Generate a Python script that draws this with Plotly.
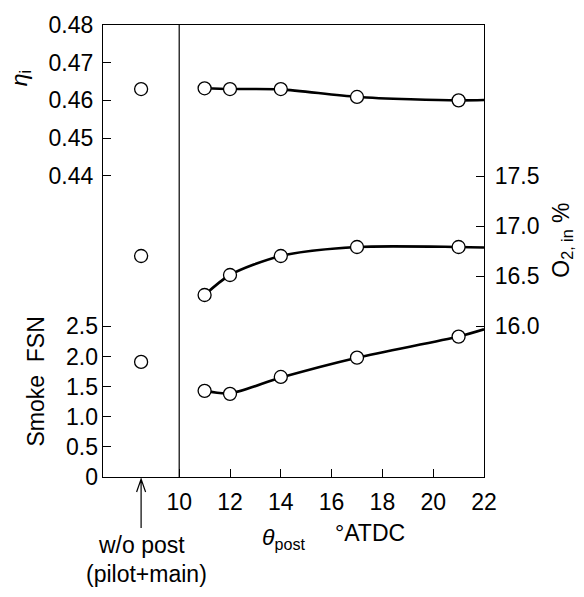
import plotly.graph_objects as go

# ---- data ----
theta_post = [11, 12, 14, 17, 21]
wo_post_x = [8.5]

eta_i = [0.4632, 0.4630, 0.4630, 0.4609, 0.4600]
eta_wo = [0.4630]
o2_in = [16.31, 16.51, 16.70, 16.79, 16.79]
o2_wo = [16.70]
smoke = [1.43, 1.38, 1.66, 1.98, 2.33]
smoke_wo = [1.91]

# fitted curves (drawn through the measured points, extended to the axis end)
curve_x = [11, 12, 14, 17, 21, 22]
eta_curve = [0.4632, 0.4630, 0.4629, 0.4609, 0.4600, 0.4601]
o2_curve = [16.31, 16.51, 16.70, 16.79, 16.79, 16.785]
smoke_curve = [1.43, 1.39, 1.65, 1.98, 2.33, 2.45]

x_ticks = [10, 12, 14, 16, 18, 20, 22]
eta_ticks = [0.44, 0.45, 0.46, 0.47, 0.48]
eta_ticktext = ["0.44", "0.45", "0.46", "0.47", "0.48"]
smoke_ticks = [0, 0.5, 1.0, 1.5, 2.0, 2.5]
smoke_ticktext = ["0", "0.5", "1.0", "1.5", "2.0", "2.5"]
o2_ticks = [16.0, 16.5, 17.0, 17.5]
o2_ticktext = ["16.0", "16.5", "17.0", "17.5"]

FONT = "Liberation Sans, Arial, sans-serif"
FS = 23

fig = go.Figure()

line_style = dict(color="black", width=2.6, shape="spline", smoothing=0.8)
marker_style = dict(symbol="circle", size=13, color="white", line=dict(color="black", width=1.3))

# eta
fig.add_trace(go.Scatter(x=curve_x, y=eta_curve, mode="lines", line=line_style, yaxis="y", showlegend=False, hoverinfo="skip"))
fig.add_trace(go.Scatter(x=theta_post, y=eta_i, mode="markers", marker=marker_style, yaxis="y", showlegend=False))
fig.add_trace(go.Scatter(x=wo_post_x, y=eta_wo, mode="markers", marker=marker_style, yaxis="y", showlegend=False))
# smoke
fig.add_trace(go.Scatter(x=curve_x, y=smoke_curve, mode="lines", line=line_style, yaxis="y2", showlegend=False, hoverinfo="skip"))
fig.add_trace(go.Scatter(x=theta_post, y=smoke, mode="markers", marker=marker_style, yaxis="y2", showlegend=False))
fig.add_trace(go.Scatter(x=wo_post_x, y=smoke_wo, mode="markers", marker=marker_style, yaxis="y2", showlegend=False))
# O2
fig.add_trace(go.Scatter(x=curve_x, y=o2_curve, mode="lines", line=line_style, yaxis="y3", showlegend=False, hoverinfo="skip"))
fig.add_trace(go.Scatter(x=theta_post, y=o2_in, mode="markers", marker=marker_style, yaxis="y3", showlegend=False))
fig.add_trace(go.Scatter(x=wo_post_x, y=o2_wo, mode="markers", marker=marker_style, yaxis="y3", showlegend=False))

axis_common = dict(showgrid=False, zeroline=False, ticks="inside", ticklen=8, tickwidth=1,
                   tickcolor="black", tickfont=dict(family=FONT, size=FS, color="black"))

fig.update_layout(
    width=584, height=597,
    margin=dict(l=103, r=100, t=18, b=120),
    plot_bgcolor="white", paper_bgcolor="white",
    font=dict(family=FONT, size=FS, color="black"),
    xaxis=dict(range=[7, 22], tickvals=x_ticks, showline=True, linecolor="black", linewidth=1.3,
               mirror=True, ticklabelstandoff=4, **axis_common),
    yaxis=dict(range=[0.36, 0.48], tickvals=eta_ticks, ticktext=eta_ticktext, showline=True,
               linecolor="black", linewidth=1.3, mirror=True, ticklabelstandoff=4, **axis_common),
    yaxis2=dict(range=[0, 7.5], tickvals=smoke_ticks, ticktext=smoke_ticktext, overlaying="y",
                side="left", anchor="x", showline=False, ticklabelstandoff=4, **axis_common),
    yaxis3=dict(range=[14.49, 19.01], tickvals=o2_ticks, ticktext=o2_ticktext, overlaying="y",
                side="right", anchor="x", showline=True, linecolor="black", linewidth=1.3,
                ticklabelstandoff=5, **axis_common),
)

# vertical separator at theta = 10
fig.add_shape(type="line", xref="x", yref="paper", x0=10, x1=10, y0=0, y1=1,
              line=dict(color="black", width=1.2))

# arrow pointing to the w/o post column
fig.add_shape(type="path", xref="x", yref="paper", xsizemode="pixel", ysizemode="pixel",
              xanchor=wo_post_x[0], yanchor=0,
              path="M0,-2 L0,-51 M-4.5,-15 L0,-2 L4.5,-15",
              line=dict(color="black", width=1.2))

ann = dict(showarrow=False, xref="paper", yref="paper", xanchor="center", yanchor="middle",
           font=dict(family=FONT, size=FS, color="black"))
fig.add_annotation(text="<i>η</i><sub>i</sub>", x=-0.218, y=0.882, textangle=-90, **ann)
fig.add_annotation(text="Smoke  FSN", x=-0.176, y=0.211, textangle=-90, **ann)
fig.add_annotation(text="O<sub>2, in</sub> %", x=1.205, y=0.523, textangle=-90, **ann)
fig.add_annotation(text="<i>θ</i><sub>post</sub>", x=0.475, y=-0.135, **ann)
fig.add_annotation(text="°ATDC", x=0.701, y=-0.124, **ann)
fig.add_annotation(text="w/o post", x=0.102, y=-0.150, **ann)
fig.add_annotation(text="(pilot+main)", x=0.115, y=-0.2135, **ann)

fig.write_html("out.html")
